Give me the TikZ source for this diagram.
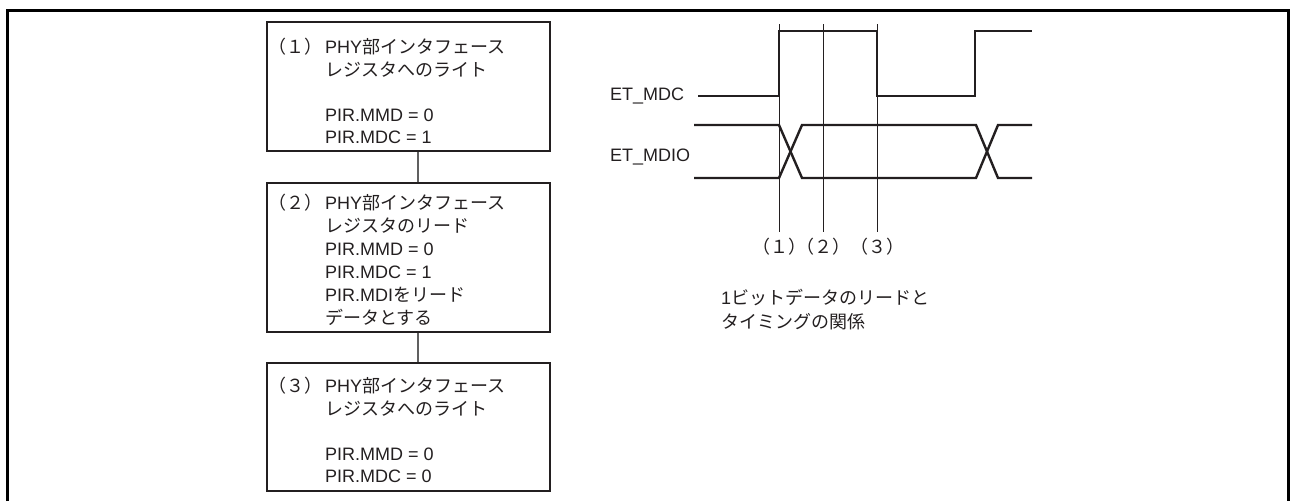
\documentclass[tikz,border=0pt]{standalone}
\usepackage{fontspec}
\setmainfont{Liberation Sans}
\newfontfamily\jp{Noto Sans CJK JP}
\definecolor{ink}{HTML}{231F20}
\definecolor{linkgray}{HTML}{606060}
\begin{document}
\begin{tikzpicture}[x=1pt,y=-1pt,
  txt/.style={inner sep=0pt, anchor=base west, text=ink, font=\fontsize{18}{22.5}\selectfont},
  stepbox/.style={draw=ink, line width=2.4pt, inner sep=0pt, minimum width=283pt},
  link/.style={draw=linkgray, line width=1.2pt},
  frame/.style={draw=black, line width=3pt},
  wave/.style={draw=ink, line width=2.4pt, line join=miter},
  guide/.style={draw=ink, line width=0.9pt}]
\useasboundingbox (0,0) rectangle (1291,501);
\draw[frame] (7.5,501) -- (7.5,10.5) -- (1288.5,10.5) -- (1288.5,501);

% boxes
\node[stepbox, minimum height=129pt] (b1) at (408.5,86.5) {};
\node[stepbox, minimum height=149pt] (b2) at (408.5,257.5) {};
\node[stepbox, minimum height=128pt] (b3) at (408.5,427) {};
\draw[link] ([xshift=9.5pt]b1.south) -- ([xshift=9.5pt]b2.north);
\draw[link] ([xshift=9.5pt]b2.south) -- ([xshift=9.5pt]b3.north);

% box texts
\node[txt, anchor=base east] (p1) at (323,53.5) {\jp （１）};
\node[txt] (t1) at (325,53.5) {\begin{tabular}[t]{@{}l@{}}PHY{\jp 部インタフェース}\\{\jp レジスタへのライト}\\ \\PIR.MMD = 0\\PIR.MDC = 1\end{tabular}};

\node[txt, anchor=base east] (p2) at (323,209.5) {\jp （２）};
\node[txt, font=\fontsize{18}{23}\selectfont] (t2) at (325,209.5) {\begin{tabular}[t]{@{}l@{}}PHY{\jp 部インタフェース}\\{\jp レジスタのリード}\\PIR.MMD = 0\\PIR.MDC = 1\\PIR.MDI{\jp をリード}\\{\jp データとする}\end{tabular}};

\node[txt, anchor=base east] (p3) at (323,392.5) {\jp （３）};
\node[txt] (t3) at (325,392.5) {\begin{tabular}[t]{@{}l@{}}PHY{\jp 部インタフェース}\\{\jp レジスタへのライト}\\ \\PIR.MMD = 0\\PIR.MDC = 0\end{tabular}};

% timing diagram
\node[txt] (mdc) at (610,100.5) {ET\_MDC};
\node[txt] (mdio) at (610,161) {ET\_MDIO};
\draw[wave] (698,96) -- (779,96) -- (779,31) -- (877,31) -- (877,96) -- (975,96) -- (975,31) -- (1032,31);
\draw[wave] (694,125) -- (779,125) -- (802,178) -- (976,178) -- (998,125) -- (1032,125);
\draw[wave] (694,178) -- (779,178) -- (802,125) -- (976,125) -- (998,178) -- (1032,178);
\draw[guide] (779,24) -- (779,232);
\draw[guide] (823,24) -- (823,232);
\draw[guide] (877,24) -- (877,232);
\node[txt, anchor=base] (l1) at (779,253.5) {\jp （１）};
\node[txt, anchor=base] (l2) at (823,253.5) {\jp （２）};
\node[txt, anchor=base] (l3) at (877,253.5) {\jp （３）};

\node[txt, font=\fontsize{18}{23.5}\selectfont] (cap) at (721,304.5) {\begin{tabular}[t]{@{}l@{}}1{\jp ビットデータのリードと}\\{\jp タイミングの関係}\end{tabular}};
\end{tikzpicture}
\end{document}
